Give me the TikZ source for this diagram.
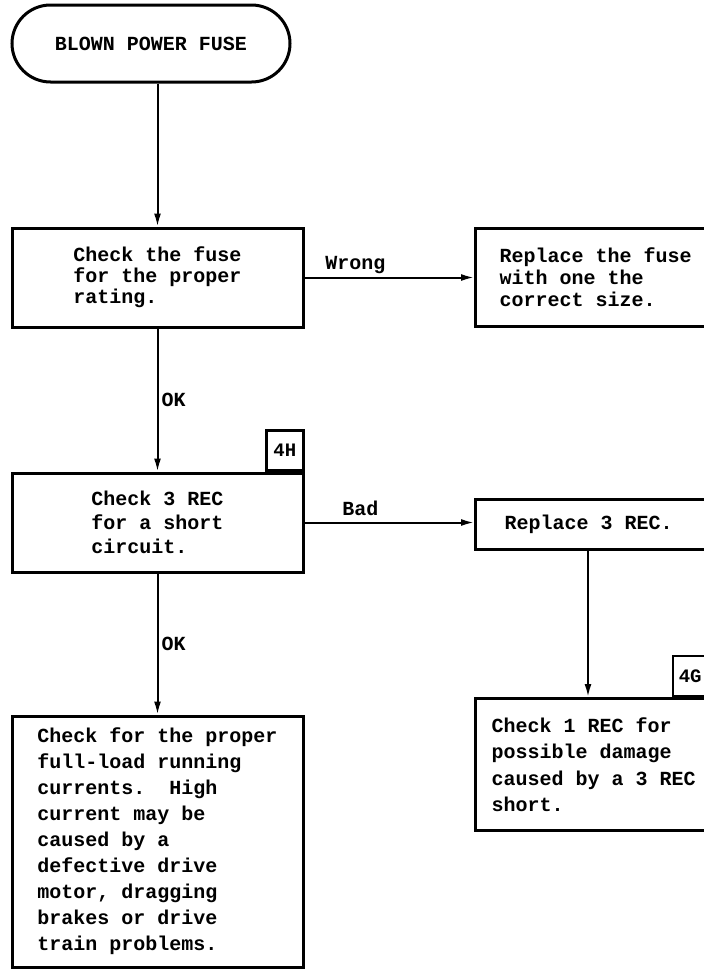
\documentclass[tikz,border=0pt]{standalone}
\usepackage{fontspec}
\newfontfamily\typerfont{Liberation Mono}
\usetikzlibrary{arrows.meta,shapes.misc}
\begin{document}
\begin{tikzpicture}[x=1pt,y=-1pt,
  box/.style={draw,line width=3pt,inner sep=0pt,align=left,
    font=\typerfont\bfseries\fontsize{20}{24}\selectfont},
  rbox/.style={box,anchor=north west,text width=250pt,align=flush left},
  tag/.style={draw,line width=2.4pt,inner sep=0pt,minimum width=37pt,minimum height=40pt,
    font=\typerfont\bfseries\fontsize{19}{20}\selectfont},
  flow/.style={line width=2pt,-{Latex[length=13pt,width=7pt]}},
  lbl/.style={inner sep=3pt,font=\typerfont\bfseries\fontsize{20}{24}\selectfont}]
  \useasboundingbox (0,0) rectangle (704,972);
  \clip (0,0) rectangle (704,972);
  % left column
  \node[box,rounded rectangle,minimum width=278pt,minimum height=77pt] (start) at (151,43.5) {BLOWN POWER FUSE};
  \node[box,minimum width=291pt,minimum height=99pt,
    font=\typerfont\bfseries\fontsize{20}{21}\selectfont] (rating) at (157.5,277.5) {Check the fuse\\for the proper\\rating.};
  \node[box,minimum width=291pt,minimum height=99pt] (check3) at (157.5,522.5) {Check 3 REC\\for a short\\circuit.};
  \node[box,minimum width=291pt,minimum height=251pt,
    font=\typerfont\bfseries\fontsize{20}{26}\selectfont] (loadcheck) at (157.5,841.5)
    {Check for the proper\\full-load running\\currents.\ \ High\\current may be\\caused by a\\defective drive\\motor, dragging\\brakes or drive\\train problems.};
  \node[tag,anchor=south east] (tag4h) at (check3.north east) {4H};
  % right column
  \node[rbox,minimum height=98pt,inner xsep=24pt,
    font=\typerfont\bfseries\fontsize{20}{22}\selectfont] (newfuse) at (474,227) {Replace the fuse\\with one the\\correct size.};
  \node[rbox,minimum height=50pt,inner xsep=29pt] (rec3) at (474,498) {Replace 3 REC.};
  \node[rbox,minimum height=132pt,inner xsep=16pt,
    font=\typerfont\bfseries\fontsize{20}{26.5}\selectfont] (rec1) at (474,697)
    {Check 1 REC for\\possible damage\\caused by a 3 REC\\short.};
  \node[tag,anchor=south west,minimum width=34pt] (tag4g) at ([xshift=198pt]rec1.north west) {4G};
  % connectors
  \draw[flow] (start.south -| rating.north) -- (rating.north);
  \draw[flow] (rating) -- (check3) node[midway,right,lbl] {OK};
  \draw[flow] (check3) -- (loadcheck) node[midway,right,lbl] {OK};
  \draw[flow] (rating.east) -- (rating.east -| newfuse.west) node[pos=0.3,above,lbl] {Wrong};
  \draw[flow] (check3.east) -- (check3.east -| rec3.west) node[pos=0.33,above,lbl,inner sep=6pt] {Bad};
  \coordinate (drop) at (588,548);
  \draw[flow] (rec3.south -| drop) -- (rec1.north -| drop);
\end{tikzpicture}
\end{document}
